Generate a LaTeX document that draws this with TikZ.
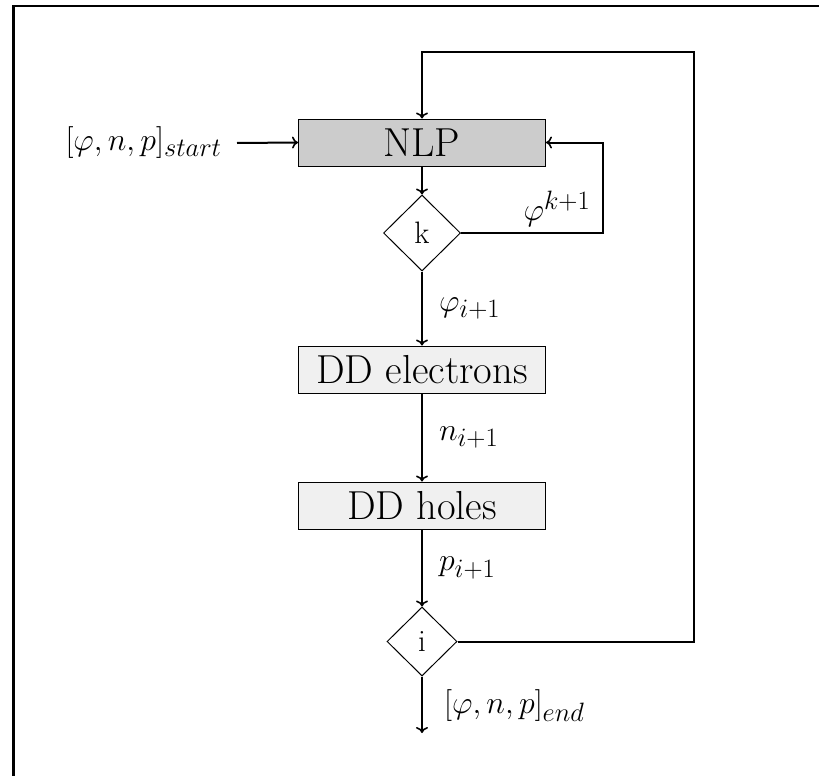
\documentclass[tikz,border=0pt]{standalone}
\usetikzlibrary{shapes.geometric,arrows.meta}
\newcommand{\mlab}[1]{\scalebox{1.28}{$#1$}}
\begin{document}
\begin{tikzpicture}[x=1pt,y=-1pt,
  flow/.style={line width=2pt,-{To[length=6pt,width=12pt,line width=1.6pt]}},
  procbox/.style={draw,line width=1pt,rectangle,minimum width=247pt,minimum height=47pt,inner sep=0pt,font=\fontsize{40.5}{44}\selectfont},
  decide/.style={draw,line width=1pt,diamond,aspect=1,inner sep=0pt,font=\fontsize{31}{33}\selectfont},
  lbl/.style={inner sep=0pt,font=\fontsize{29}{32}\selectfont}]
\useasboundingbox (0,0) rectangle (819,776);
% frame
\draw[line width=2.5pt] (13.5,776) -- (13.5,6) -- (819,6);
% nodes
\node[procbox,fill=black!20] (nlp) at (422,142.5) {NLP};
\node[decide,minimum width=77pt,minimum height=76pt] (kd) at (422,233) {k};
\node[procbox,fill=black!6] (dde) at (422,369.5) {DD electrons};
\node[procbox,fill=black!6] (ddh) at (422,505.5) {DD holes};
\node[decide,minimum width=70pt,minimum height=69pt] (id) at (422,641.5) {i};
\node[lbl,anchor=east,inner xsep=15pt] (start) at (237,143) {\mlab{[\varphi,n,p]_{start}}};
\coordinate (endpt) at (422,733);
\coordinate (kr) at (603,233);
\coordinate (tr) at (694,52);
% connectors
\draw[flow] (start.east) -- (nlp.west);
\draw[flow] (nlp.south) -- (kd.north);
\draw[flow] (kd.south) -- node[lbl,right=16pt] (lphi) {\mlab{\varphi_{i+1}}} (dde.north);
\draw[flow] (dde.south) -- node[lbl,right=16pt] (ln) {\mlab{n_{i+1}}} (ddh.north);
\draw[flow] (ddh.south) -- node[lbl,right=16pt] (lp) {\mlab{p_{i+1}}} (id.north);
\draw[flow] (id.south) -- (endpt);
\draw[flow] (kd.east) -- (kr) |- (nlp.east);
\draw[flow] (id.east) -| (tr) -| (nlp.north);
% labels
\node[lbl] (lk) at (557,209) {\mlab{\varphi^{k+1}}};
\node[lbl,anchor=west] (lend) at (444,706) {\mlab{[\varphi,n,p]_{end}}};
\end{tikzpicture}
\end{document}
